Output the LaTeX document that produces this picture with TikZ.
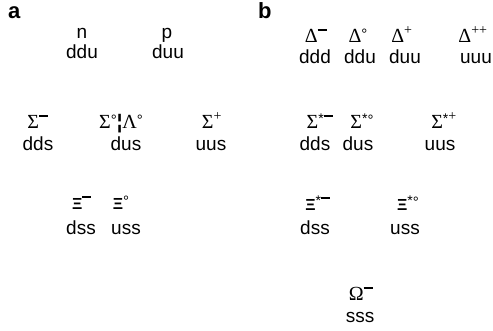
\documentclass[tikz,border=0pt]{standalone}
\usepackage{fontspec}
\setmainfont{Liberation Sans}
\newfontfamily\greekfont{Liberation Serif}
\usetikzlibrary{positioning}

\newcommand{\up}[1]{\textsuperscript{#1}}
\newcommand{\mns}{\rule[0.5ex]{0.65em}{0.17em}}
\newcommand{\dg}{\raisebox{3pt}{\rmfamily\fontsize{15}{15}\selectfont °}}
\newcommand{\str}{\raisebox{4.5pt}{\rmfamily\fontsize{14}{14}\selectfont *}}
\newcommand{\Xib}{{\rmfamily\bfseries\fontsize{16}{16}\selectfont Ξ}}

\begin{document}
\begin{tikzpicture}[x=1pt, y=-1pt]
  \tikzset{
    hadron/.style={anchor=base, inner sep=0pt, font=\fontsize{20}{20}\greekfont},
    nucleon/.style={anchor=base, inner sep=0pt, font=\fontsize{19}{19}\selectfont},
    quarks/.style={anchor=base, inner sep=0pt, font=\fontsize{19}{19}\selectfont},
    panel/.style={anchor=base west, inner sep=0pt, font=\fontsize{22}{22}\selectfont\bfseries}
  }
  \useasboundingbox (0,0) rectangle (493,330);

  % panel a: baryon octet
  \node[panel] (la) at (8,18) {a};
  \node[nucleon] (n)   at (82,38)  {n};
  \node[quarks] (nq)   at (82,58)  {ddu};
  \node[nucleon] (p)   at (167,38) {p};
  \node[quarks] (pq)   at (168,58) {duu};
  \node[hadron] (sm)   at (38,128) {Σ\up{\mns}};
  \node[quarks] (smq)  at (38,150) {dds};
  \node[hadron] (sl)   at (121,128) {Σ\dg{\rmfamily\bfseries ¦}Λ\dg};
  \node[quarks] (slq)  at (126,150) {dus};
  \node[hadron] (sp)   at (212,128) {Σ\up{+}};
  \node[quarks] (spq)  at (211,150) {uus};
  \node[hadron] (xm)   at (82,209) {\Xib\up{\mns}};
  \node[quarks] (xmq)  at (81,234) {dss};
  \node[hadron] (xz)   at (121,209) {\Xib\dg};
  \node[quarks] (xzq)  at (126,234) {uss};

  % panel b: baryon decuplet
  \node[panel] (lb) at (258,18) {b};
  \node[hadron] (dm)   at (316,42) {Δ\up{\mns}};
  \node[quarks] (dmq)  at (315,63) {ddd};
  \node[hadron] (dz)   at (358,42) {Δ\dg};
  \node[quarks] (dzq)  at (360,63) {ddu};
  \node[hadron] (dp)   at (402,42) {Δ\up{+}};
  \node[quarks] (dpq)  at (405,63) {duu};
  \node[hadron] (dpp)  at (473,42) {Δ\up{++}};
  \node[quarks] (dppq) at (476,63) {uuu};
  \node[hadron] (ssm)  at (320,128) {Σ\str\up{\mns}};
  \node[quarks] (ssmq) at (315,150) {dds};
  \node[hadron] (ssz)  at (362,128) {Σ\str\dg};
  \node[quarks] (sszq) at (358,150) {dus};
  \node[hadron] (ssp)  at (444,128) {Σ\str\up{+}};
  \node[quarks] (sspq) at (440,150) {uus};
  \node[hadron] (xsm)  at (318,210) {\Xib\str\up{\mns}};
  \node[quarks] (xsmq) at (315,234) {dss};
  \node[hadron] (xsz)  at (408,210) {\Xib\str\dg};
  \node[quarks] (xszq) at (405,234) {uss};
  \node[hadron] (om)   at (361,300) {Ω\up{\mns}};
  \node[quarks] (omq)  at (360,322) {sss};
\end{tikzpicture}
\end{document}
